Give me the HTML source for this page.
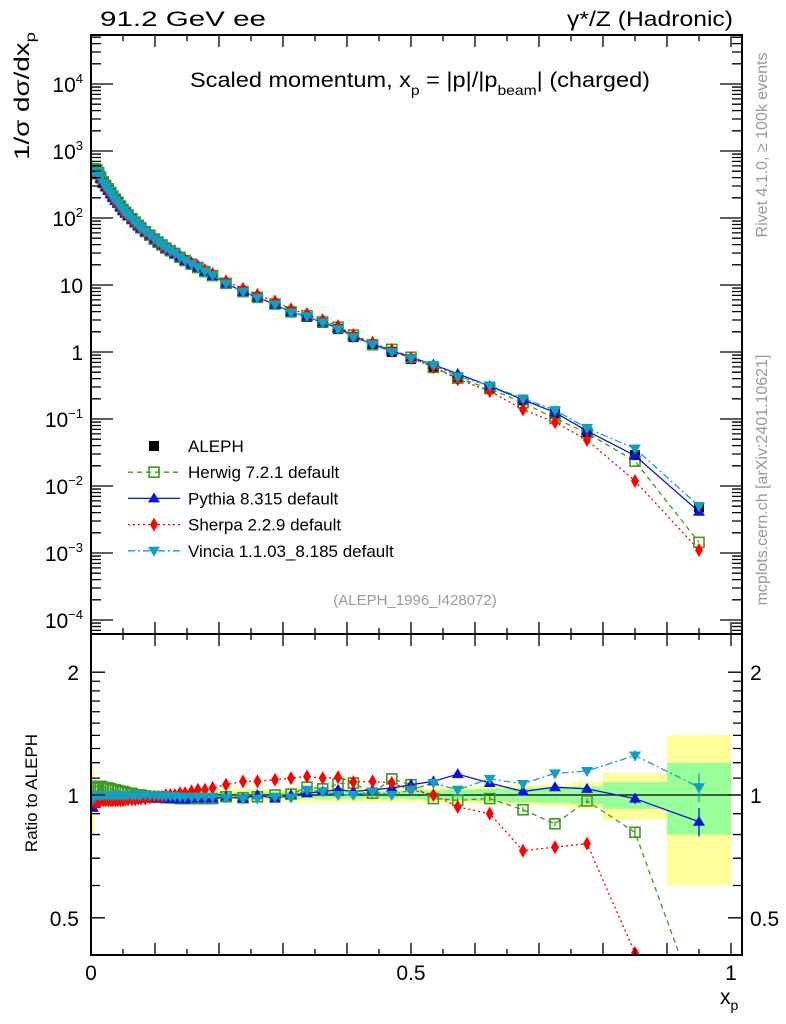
<!DOCTYPE html>
<html><head><meta charset="utf-8"><style>
body{margin:0;background:#fff;}
svg{display:block;font-family:"Liberation Sans",Arial,sans-serif;}
</style></head><body>
<svg id="chart" width="786" height="1024" viewBox="0 0 786 1024" xmlns="http://www.w3.org/2000/svg">
<defs>
<clipPath id="cTop"><rect x="91" y="35" width="651" height="599"/></clipPath>
<clipPath id="cRat"><rect x="91" y="634" width="651" height="321"/></clipPath>
</defs>
<g id="bands" clip-path="url(#cRat)"></g>
<g id="ratio" clip-path="url(#cRat)"></g>
<g id="main" clip-path="url(#cTop)"></g>
<g id="axes"></g>
<text x="100" y="26" font-size="21" textLength="166" lengthAdjust="spacingAndGlyphs">91.2 GeV ee</text>
<text x="567" y="26" font-size="21" textLength="166" lengthAdjust="spacingAndGlyphs">γ*/Z (Hadronic)</text>
<text x="190" y="87" font-size="21" textLength="460" lengthAdjust="spacingAndGlyphs">Scaled momentum, x<tspan font-size="14" dy="8">p</tspan><tspan dy="-8"> = |p|/|p</tspan><tspan font-size="14" dy="8">beam</tspan><tspan dy="-8">| (charged)</tspan></text>
<text transform="translate(29,160) rotate(-90)" font-size="21" textLength="128" lengthAdjust="spacingAndGlyphs">1/σ   dσ/dx<tspan font-size="14" dy="6">p</tspan></text>
<text transform="translate(767,145) rotate(-90)" font-size="16" fill="#999" text-anchor="middle">Rivet 4.1.0, ≥ 100k events</text>
<text transform="translate(767,480) rotate(-90)" font-size="16" fill="#999" text-anchor="middle">mcplots.cern.ch [arXiv:2401.10621]</text>
<text x="415" y="605" font-size="15" fill="#999" text-anchor="middle">(ALEPH_1996_I428072)</text>
<text transform="translate(37,793) rotate(-90)" font-size="17" text-anchor="middle">Ratio to ALEPH</text>
<text x="720" y="1004" font-size="21">x<tspan font-size="14" dy="6">p</tspan></text>
<g id="legend"></g>
</svg>
<script>
const xs=[0.003,0.006,0.009,0.012,0.015,0.019,0.023,0.027,0.031,0.034,0.038,0.042,0.046,0.05,0.054,0.058,0.064,0.069,0.074,0.078,0.085,0.092,0.099,0.105,0.111,0.117,0.124,0.131,0.139,0.147,0.157,0.167,0.178,0.19,0.211,0.2375,0.26,0.2875,0.3125,0.3375,0.362,0.386,0.41,0.44,0.47,0.5,0.535,0.573,0.623,0.675,0.725,0.775,0.85,0.95];
const aleph=[480,520,500,450,390,333,295,262,232,206,186,168,148,131,120,110,97,87,78,71,63,56,49,44,40,36,33,30,26.5,23.6,20.9,18.6,16.2,14.1,10.7,8.1,6.6,5.2,3.95,3.33,2.71,2.2,1.67,1.27,1.0,0.786,0.60,0.42,0.29,0.19,0.12,0.064,0.029,0.0048];
const herwigR=[1.04,1.05,1.05,1.05,1.05,1.045,1.04,1.04,1.035,1.03,1.03,1.025,1.02,1.02,1.015,1.01,1.01,1.0,1.0,1.0,0.995,0.99,0.99,0.99,0.99,0.985,0.985,0.985,0.98,0.98,0.98,0.98,0.98,0.98,0.99,0.985,0.99,1.0,1.005,1.045,1.035,1.065,1.07,1.01,1.095,1.06,0.98,0.97,0.98,0.92,0.85,0.967,0.81,0.30];
const pythiaR=[0.93,0.95,0.97,0.98,0.98,0.975,0.975,0.975,0.975,0.975,0.975,0.975,0.975,0.975,0.975,0.975,0.975,0.98,0.98,0.98,0.98,0.98,0.98,0.98,0.98,0.98,0.975,0.975,0.975,0.975,0.98,0.98,0.98,0.98,0.99,0.98,1.0,0.98,1.0,1.01,1.02,1.03,1.02,1.03,1.04,1.06,1.08,1.125,1.07,1.02,1.045,1.035,0.98,0.86];
const sherpaR=[0.97,0.96,0.96,0.965,0.97,0.97,0.97,0.97,0.97,0.97,0.97,0.97,0.97,0.97,0.975,0.975,0.975,0.975,0.98,0.98,0.98,0.985,0.99,0.99,0.99,1.0,1.0,1.0,1.01,1.01,1.02,1.03,1.03,1.04,1.06,1.08,1.08,1.09,1.10,1.11,1.10,1.105,1.075,1.08,1.07,1.03,1.0,0.935,0.90,0.73,0.745,0.76,0.41,0.23];
const vinciaR=[0.98,0.99,1.0,1.0,1.0,1.0,1.0,1.0,1.0,1.0,1.0,1.0,1.0,1.0,1.0,1.0,1.0,1.0,1.0,1.0,1.0,1.0,1.0,1.0,1.0,0.995,0.995,0.995,0.99,0.99,0.99,0.99,0.99,0.99,0.985,0.98,0.98,0.99,0.985,1.03,1.02,1.0,1.0,1.02,1.0,1.03,1.07,1.03,1.095,1.065,1.13,1.145,1.25,1.045];
const bandEdges=[0,0.005,0.1,0.2,0.3,0.4,0.5,0.55,0.6,0.65,0.7,0.75,0.8,0.9,1.0];
const bandTot=[0.2,0.03,0.03,0.035,0.04,0.04,0.04,0.045,0.05,0.055,0.06,0.075,0.13,0.4];
const bandStat=[0.05,0.01,0.01,0.015,0.02,0.02,0.025,0.03,0.035,0.04,0.045,0.05,0.075,0.2];
const yTicks=["10<tspan font-size='13' dy='-9'>4</tspan>","10<tspan font-size='13' dy='-9'>3</tspan>","10<tspan font-size='13' dy='-9'>2</tspan>","10","1","10<tspan font-size='13' dy='-9'>−1</tspan>","10<tspan font-size='13' dy='-9'>−2</tspan>","10<tspan font-size='13' dy='-9'>−3</tspan>","10<tspan font-size='13' dy='-9'>−4</tspan>"];
const yTickExp=[4,3,2,1,0,-1,-2,-3,-4];

const NS="http://www.w3.org/2000/svg";
const X=x=>91+640*x;
const YT=v=>352-67*Math.log10(v);
const YR=r=>795-408*Math.log10(r);
function mk(tag,at,parent){const e=document.createElementNS(NS,tag);for(const k in at)e.setAttribute(k,at[k]);parent.appendChild(e);return e;}
const gB=document.getElementById('bands'),gR=document.getElementById('ratio'),gM=document.getElementById('main'),gA=document.getElementById('axes'),gL=document.getElementById('legend');

for(let i=0;i<bandTot.length;i++){
  const x0=X(bandEdges[i]),x1=X(bandEdges[i+1]);
  const r1=mk('rect',{x:x0,y:YR(1+bandTot[i]),width:x1-x0,height:YR(1-bandTot[i])-YR(1+bandTot[i]),fill:'#ffff99'},gB);
  
  
  const r2=mk('rect',{x:x0,y:YR(1+bandStat[i]),width:x1-x0,height:YR(1-bandStat[i])-YR(1+bandStat[i]),fill:'#99ff99'},gB);
  
  
}
const ln1=mk('line',{x1:91,x2:742,y1:YR(1),y2:YR(1),stroke:'#000','stroke-width':1.3},gB);



function marker(type,cx,cy,col,parent,s){
  s=s||5;let e;
  if(type==='sq') e=mk('rect',{x:cx-s,y:cy-s,width:2*s,height:2*s,fill:'none',stroke:col,'stroke-width':1.6},parent);
  else if(type==='bsq') e=mk('rect',{x:cx-s,y:cy-s,width:2*s,height:2*s,fill:col},parent);
  else if(type==='up') e=mk('polygon',{points:`${cx},${cy-s-1} ${cx-s-1},${cy+s-1} ${cx+s+1},${cy+s-1}`,fill:col},parent);
  else if(type==='dn') e=mk('polygon',{points:`${cx},${cy+s+1} ${cx-s-1},${cy-s+1} ${cx+s+1},${cy-s+1}`,fill:col},parent);
  else e=mk('polygon',{points:`${cx},${cy-s-2} ${cx-s+1},${cy} ${cx},${cy+s+2} ${cx+s-1},${cy}`,fill:col},parent);
  return e;
}
const series=[
 {name:'herwig',r:herwigR,col:'#3f9a1c',dash:'5,4',m:'sq'},
 {name:'pythia',r:pythiaR,col:'#0a14e0',dash:'',m:'up'},
 {name:'sherpa',r:sherpaR,col:'#ff0000',dash:'2,3',m:'di'},
 {name:'vincia',r:vinciaR,col:'#13a0c0',dash:'7,3,2,3',m:'dn'}];

aleph.forEach((v,i)=>{const e=marker('bsq',X(xs[i]),YT(v),'#000',gM,5);
 
 });

series.forEach(s=>{
  const ptsM=xs.map((x,i)=>X(x)+','+YT(aleph[i]*s.r[i])).join(' ');
  const pl=mk('polyline',{points:ptsM,fill:'none',stroke:s.col,'stroke-width':1.3,'stroke-dasharray':s.dash},gM);
  
  
  const ptsR=xs.map((x,i)=>X(x)+','+YR(s.r[i])).join(' ');
  const pr=mk('polyline',{points:ptsR,fill:'none',stroke:s.col,'stroke-width':1.3,'stroke-dasharray':s.dash},gR);
  
  
  xs.forEach((x,i)=>{
    const e=marker(s.m,X(x),YT(aleph[i]*s.r[i]),s.col,gM,5);
    
    
    if(x>0.5){
      const err=x>0.9?0.08:(x>0.8?0.03:0.015);
      const eb=mk('line',{x1:X(x),x2:X(x),y1:YR(s.r[i]*(1+err)),y2:YR(s.r[i]*(1-err)),stroke:s.col,'stroke-width':1.3},gR);
      
      
    }
    const r=marker(s.m,X(x),YR(s.r[i]),s.col,gR,5);
    
    
  });
});

const fr=mk('rect',{x:91,y:35,width:651,height:920,fill:'none',stroke:'#000','stroke-width':2},gA);


const dv=mk('line',{x1:91,x2:742,y1:634,y2:634,stroke:'#000','stroke-width':2},gA);


let tp='';
for(let k=0;k<=20;k++){const x=X(k*0.05);const L=k%2?6:12;
 tp+=`M${x},955v${-L}M${x},634v${-L}M${x},634v${L}M${x},35v${L}`;}
for(let e=-5;e<=4;e++){for(let m=1;m<10;m++){const y=YT(m*Math.pow(10,e));if(y<36||y>633)continue;const L=m===1?22:10;tp+=`M91,${y}h${L}M742,${y}h${-L}`;}}
[0.4,0.5,0.6,0.7,0.8,0.9,1,1.1,1.2,1.3,1.4,1.5,1.6,1.7,1.8,1.9,2,2.5].forEach(r=>{const y=YR(r);if(y<636||y>954)return;const L=(r===0.5||r===1||r===2)?14:9;tp+=`M91,${y}h${L}M742,${y}h${-L}`;});
const tk=mk('path',{d:tp,stroke:'#000','stroke-width':1.3,fill:'none'},gA);


yTicks.forEach((t,i)=>{const e=mk('text',{x:83,y:YT(Math.pow(10,yTickExp[i]))+8,'font-size':21,'text-anchor':'end'},gA);e.innerHTML=t;
 
 });
[['2',2],['1',1],['0.5',0.5]].forEach(([t,r])=>{
 const a=mk('text',{x:79,y:YR(r)+8,'font-size':21,'text-anchor':'end'},gA);a.textContent=t;
 
 
 const b=mk('text',{x:750,y:YR(r)+8,'font-size':21},gA);b.textContent=t;
 
 });
[['0',0],['0.5',0.5],['1',1]].forEach(([t,v])=>{const e=mk('text',{x:X(v),y:980,'font-size':21,'text-anchor':'middle'},gA);e.textContent=t;
 
 });

const leg=[['ALEPH','bsq','#000',''],['Herwig 7.2.1 default','sq','#3f9a1c','5,4'],['Pythia 8.315 default','up','#0a14e0',''],['Sherpa 2.2.9 default','di','#ff0000','2,3'],['Vincia 1.1.03_8.185 default','dn','#13a0c0','7,3,2,3']];
leg.forEach((l,i)=>{const y=446+26.2*i;
 if(i>0){const ll=mk('line',{x1:128,x2:180,y1:y,y2:y,stroke:l[2],'stroke-width':1.3,'stroke-dasharray':l[3]},gL);
  
  }
 const m=marker(l[1],154,y,l[2],gL,5);
 
 
 const t=mk('text',{x:188,y:y+6,'font-size':17},gL);t.textContent=l[0];
 
 });
</script>
</body></html>
